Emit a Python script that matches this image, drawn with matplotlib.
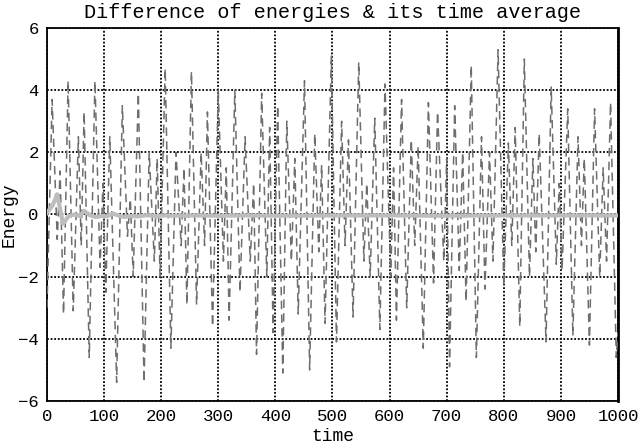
import numpy as np
import matplotlib
matplotlib.use("Agg")
import matplotlib.pyplot as plt

plt.rcParams["font.family"] = ["Liberation Mono", "DejaVu Sans Mono"]

# difference of energies: turning points of the oscillation (time, value)
diff_t = [0, 9, 18, 23, 29, 37, 46, 55, 60, 65, 74, 84, 93, 98, 103, 110, 122,
          132, 141, 146, 151, 160, 170, 179, 188, 193, 198, 207, 217, 226, 235,
          240, 245, 253, 262, 270, 276, 281, 290, 300, 309, 314, 319, 329, 338,
          347, 356, 362, 367, 376, 385, 390, 396, 404, 413, 420, 428, 434, 440,
          451, 460, 469, 476, 481, 487, 498, 507, 516, 522, 528, 536, 546, 555,
          560, 566, 574, 583, 592, 602, 607, 612, 621, 630, 638, 644, 650, 659,
          668, 677, 684, 695, 700, 705, 714, 722, 728, 734, 743, 752, 761, 767,
          775, 781, 790, 800, 808, 814, 820, 828, 836, 845, 851, 856, 862, 874,
          883, 892, 897, 902, 912, 921, 930, 936, 941, 950, 959, 968, 974, 980,
          987, 997, 1000]
diff_v = [-3.0, 3.7, -0.8, 1.4, -3.2, 4.3, -3.1, 2.5, -1.0, 3.3, -4.6, 4.3,
          -1.7, 1.0, -2.5, 2.5, -5.4, 3.5, -0.7, 0.5, -2.0, 3.9, -5.4, 2.0,
          -1.5, 1.8, -2.0, 4.7, -4.3, 2.0, -1.0, 1.5, -2.9, 4.6, -2.9, 2.0,
          -1.0, 3.3, -3.6, 4.0, -1.5, 1.5, -3.4, 4.0, -2.5, 2.5, -1.5, 1.0,
          -4.5, 3.9, -2.0, 2.8, -3.8, 3.5, -5.1, 3.0, -1.5, 1.8, -3.2, 4.3,
          -5.0, 2.6, -1.2, 1.6, -3.5, 5.1, -4.1, 3.0, -1.0, 2.4, -3.3, 4.9,
          -1.5, 1.0, -2.0, 3.1, -3.7, 4.2, -2.0, 1.5, -3.4, 3.7, -3.0, 2.4,
          -1.0, 2.2, -4.3, 3.6, -2.2, 3.3, -1.5, 1.8, -4.9, 3.5, -1.8, 2.0,
          -2.8, 4.8, -4.6, 2.5, -2.4, 2.0, -1.5, 5.3, -2.3, 2.3, -1.0, 2.8,
          -3.6, 5.0, -2.0, 1.8, -1.2, 2.6, -4.1, 4.1, -1.6, 1.0, -1.8, 3.4,
          -3.9, 2.5, -1.0, 1.8, -4.2, 3.4, -2.0, 1.5, -1.5, 3.6, -4.6, -3.8]

# running time average
avg_t = [0, 10, 18, 28, 38, 48, 58, 65, 75, 85, 95, 105, 115, 125, 135, 145,
         160, 175, 190, 205, 220, 260, 300, 350, 400, 500, 600, 700, 800, 900,
         1000]
avg_v = [0.05, 0.3, 0.65, -0.3, -0.05, 0.0, -0.05, 0.12, -0.02, -0.08, -0.05,
         -0.06, 0.03, -0.03, -0.08, -0.05, -0.06, -0.02, -0.05, -0.03, -0.04,
         -0.03, -0.04, -0.03, -0.04, -0.03, -0.03, -0.04, -0.03, -0.03, -0.03]

fig = plt.figure(figsize=(6.4, 4.47), dpi=100)
ax = fig.add_axes([0.0734, 0.1029, 0.8922, 0.8345])

ax.plot(diff_t, diff_v, color="#6e6e6e", lw=1.1, dashes=(5.5, 3.5), zorder=3)
ax.plot(avg_t, avg_v, color="#bdbdbd", lw=3.0, zorder=4, solid_joinstyle="round")

ax.set_xlim(0, 1000)
ax.set_ylim(-6, 6)
ax.set_xticks(np.arange(0, 1001, 100))
ax.set_yticks(np.arange(-6, 7, 2))
ax.grid(True, color="black", linestyle=(0, (1, 1)), linewidth=1.3)
ax.tick_params(direction="in", length=0, labelsize=12.5, pad=6)
for s in ax.spines.values():
    s.set_linewidth(1.3)
ax.spines["right"].set_linewidth(2.0)

ax.set_title("Difference of energies & its time average", fontsize=14.5, pad=7)
ax.set_xlabel("time", fontsize=13)
ax.set_ylabel("Energy", fontsize=13)
ax.xaxis.set_label_coords(0.5, -0.072)
ax.yaxis.set_label_coords(-0.052, 0.5)

fig.savefig("out.png", dpi=100)
